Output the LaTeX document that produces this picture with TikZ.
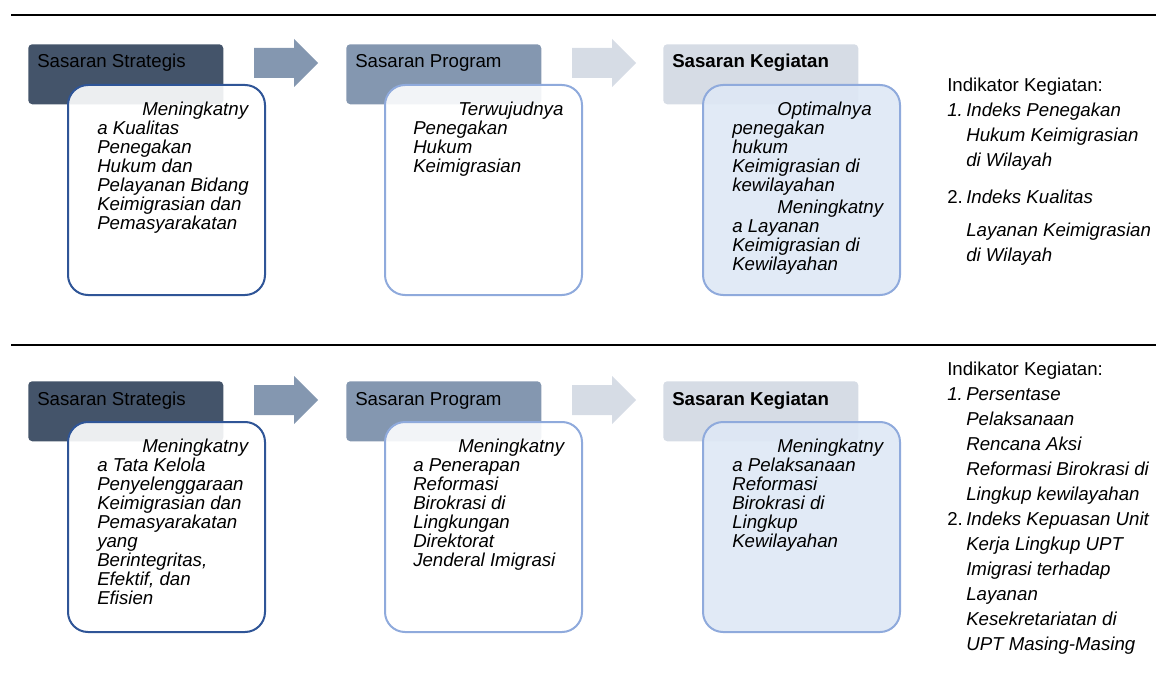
\documentclass[tikz,border=0pt]{standalone}
\usepackage{fontspec}
\setmainfont{Liberation Sans}
\usetikzlibrary{positioning}
\definecolor{hdrA}{HTML}{44546A}
\definecolor{hdrB}{HTML}{8497B0}
\definecolor{hdrC}{HTML}{D6DCE5}
\definecolor{edgeA}{HTML}{2F5597}
\definecolor{edgeB}{HTML}{8FAADC}
\definecolor{cardC}{HTML}{DEE8F5}

\begin{document}
\begin{tikzpicture}[x = 0.75pt, y = -0.75pt,
  header/.style = {shape = rectangle, rounded corners = 3pt, minimum width = 146.25pt, minimum height = 45pt, inner sep = 0pt, anchor = north west},
  headtext/.style = {anchor = base west, inner sep = 0pt, font = \fontsize{14}{16}\selectfont},
  card/.style = {shape = rectangle, rounded corners = 15pt, line width = 1.5pt, fill opacity = 0.9, minimum width = 147.75pt, minimum height = 157.5pt, inner sep = 0pt, anchor = north west},
  cardtext/.style = {anchor = north west, inner sep = 0pt, align = left, font = \fontsize{14}{14.25}\selectfont\itshape},
  inditext/.style = {anchor = north west, inner sep = 0pt, align = left, font = \fontsize{14}{18.75}\selectfont},
  rule/.style = {line width = 1.5pt}]
\useasboundingbox (0,0) rectangle (1156,681);

\foreach \r/\dy in {1/0, 2/330} {
  \coordinate (rs\r) at (11, 15+\dy);
  \coordinate (re\r) at (1156, 15+\dy);
  \draw[rule] (rs\r) -- (re\r);
}

\foreach \r/\dy in {1/0, 2/337} {
  \node[header, fill = hdrA] (hA\r) at (28, 44+\dy) {};
  \node[header, fill = hdrB] (hB\r) at (346, 44+\dy) {};
  \node[header, fill = hdrC] (hC\r) at (663, 44+\dy) {};
  \node[card, draw = edgeA, fill = white] (cA\r) at (67, 84+\dy) {};
  \node[card, draw = edgeB, fill = white] (cB\r) at (384, 84+\dy) {};
  \node[card, draw = edgeB, fill = cardC] (cC\r) at (702, 84+\dy) {};
  \fill[hdrB] (254, 48+\dy) -- ++(40,0) -- ++(0,-9) -- ++(24,24) -- ++(-24,24) -- ++(0,-9) -- ++(-40,0) -- cycle;
  \fill[hdrC] (572, 48+\dy) -- ++(40,0) -- ++(0,-9) -- ++(24,24) -- ++(-24,24) -- ++(0,-9) -- ++(-40,0) -- cycle;
  \node[headtext] (tA\r) at ([shift = {(9,24)}]hA\r.north west) {Sasaran Strategis};
  \node[headtext] (tB\r) at ([shift = {(9,24)}]hB\r.north west) {Sasaran Program};
  \node[headtext, font = \fontsize{14}{16}\selectfont\bfseries] (tC\r) at ([shift = {(9,24)}]hC\r.north west) {Sasaran Kegiatan};
}

\node[cardtext] (xA1) at ([shift = {(30,18)}]cA1.north west) {\hspace*{33.75pt}Meningkatny\\a Kualitas\\Penegakan\\Hukum dan\\Pelayanan Bidang\\Keimigrasian dan\\Pemasyarakatan};
\node[cardtext] (xB1) at ([shift = {(29,18)}]cB1.north west) {\hspace*{33.75pt}Terwujudnya\\Penegakan\\Hukum\\Keimigrasian};
\node[cardtext] (xC1) at ([shift = {(30,18)}]cC1.north west) {\hspace*{33.75pt}Optimalnya\\penegakan\\hukum\\Keimigrasian di\\kewilayahan\\[2.25pt]\hspace*{33.75pt}Meningkatny\\a Layanan\\Keimigrasian di\\Kewilayahan};

\node[cardtext] (xA2) at ([shift = {(30,18)}]cA2.north west) {\hspace*{33.75pt}Meningkatny\\a Tata Kelola\\Penyelenggaraan\\Keimigrasian dan\\Pemasyarakatan\\yang\\Berintegritas,\\Efektif, dan\\Efisien};
\node[cardtext] (xB2) at ([shift = {(29,18)}]cB2.north west) {\hspace*{33.75pt}Meningkatny\\a Penerapan\\Reformasi\\Birokrasi di\\Lingkungan\\Direktorat\\Jenderal Imigrasi};
\node[cardtext] (xC2) at ([shift = {(30,18)}]cC2.north west) {\hspace*{33.75pt}Meningkatny\\a Pelaksanaan\\Reformasi\\Birokrasi di\\Lingkup\\Kewilayahan};

\node[inditext] (ind1) at ([shift = {(46,-6)}]cC1.north east) {Indikator Kegiatan:\\
\makebox[14.25pt][l]{\itshape 1.}\textit{Indeks Penegakan}\\
\hspace*{14.25pt}\textit{Hukum Keimigrasian}\\
\hspace*{14.25pt}\textit{di Wilayah}\\[9pt]
\makebox[14.25pt][l]{2.}\textit{Indeks Kualitas}\\[6pt]
\hspace*{14.25pt}\textit{Layanan Keimigrasian}\\
\hspace*{14.25pt}\textit{di Wilayah}};

\node[inditext] (ind2) at ([shift = {(46,-59)}]cC2.north east) {Indikator Kegiatan:\\
\makebox[14.25pt][l]{\itshape 1.}\textit{Persentase}\\
\hspace*{14.25pt}\textit{Pelaksanaan}\\
\hspace*{14.25pt}\textit{Rencana Aksi}\\
\hspace*{14.25pt}\textit{Reformasi Birokrasi di}\\
\hspace*{14.25pt}\textit{Lingkup kewilayahan}\\
\makebox[14.25pt][l]{2.}\textit{Indeks Kepuasan Unit}\\
\hspace*{14.25pt}\textit{Kerja Lingkup UPT}\\
\hspace*{14.25pt}\textit{Imigrasi terhadap}\\
\hspace*{14.25pt}\textit{Layanan}\\
\hspace*{14.25pt}\textit{Kesekretariatan di}\\
\hspace*{14.25pt}\textit{UPT Masing-Masing}};
\end{tikzpicture}
\end{document}
